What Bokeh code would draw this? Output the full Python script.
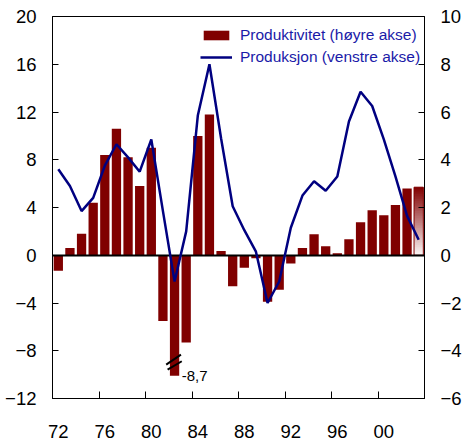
from bokeh.plotting import figure
from bokeh.models import Range1d, LinearAxis, FixedTicker, Legend, LegendItem
from bokeh.core.properties import value
from bokeh.embed import file_html
from bokeh.resources import INLINE

# ---------------- data ----------------
YEARS = list(range(1972, 2004))
# Produktivitet, % (right axis)
PRODUKTIVITET = [-0.65, 0.3, 0.9, 2.2, 4.2, 5.3, 4.1, 2.9, 4.5, -2.75,
                 -8.7, -3.65, 5.0, 5.9, 0.18, -1.3, -0.52, -0.13, -1.95, -1.44,
                 -0.35, 0.3, 0.88, 0.38, 0.08, 0.67, 1.38, 1.88, 1.68, 2.1,
                 2.8, 2.85]
# Produksjon, % (left axis)
PRODUKSJON = [7.2, 5.8, 3.7, 4.8, 7.5, 9.3, 8.2, 7.0, 9.7, 3.7,
              -2.2, 2.0, 11.7, 16.0, 9.8, 4.1, 2.1, 0.3, -4.0, -2.2,
              2.3, 5.0, 6.2, 5.4, 6.6, 11.2, 13.7, 12.5, 9.7, 6.6,
              3.3, 1.3]
XTICK_YEARS = [1972, 1976, 1980, 1984, 1988, 1992, 1996, 2000]
XTICK_LABELS = ["72", "76", "80", "84", "88", "92", "96", "00"]
LEFT_TICKS = [-12, -8, -4, 0, 4, 8, 12, 16, 20]
RIGHT_TICKS = [-6, -4, -2, 0, 2, 4, 6, 8, 10]
FORECAST_YEAR = 2003          # drawn with a fading fill
BREAK_LEVEL = -5.05           # the truncated bar is cut here (right-axis units)
TRUNC_LABEL = "-8,7"
LEGEND_LABELS = ["Produktivitet (høyre akse)", "Produksjon (venstre akse)"]

BAR_COLOR = "#800000"
LINE_COLOR = "#000080"
FONT = "Liberation Sans"

# ---------------- figure ----------------
p = figure(width=464, height=447, output_backend="svg", toolbar_location=None,
           x_range=Range1d(YEARS[0] - 0.5, YEARS[-1] + 0.5),
           y_range=Range1d(LEFT_TICKS[0], LEFT_TICKS[-1]),
           min_border_left=52, min_border_right=37, min_border_top=16,
           min_border_bottom=49)
p.extra_y_ranges = {"right": Range1d(RIGHT_TICKS[0], RIGHT_TICKS[-1])}
p.xgrid.visible = False
p.ygrid.visible = False
p.outline_line_color = "black"
p.outline_line_width = 1
p.background_fill_color = "white"
p.border_fill_color = "white"

# bars (solid, non-forecast)
solid_x = [y for y in YEARS if y != FORECAST_YEAR]
solid_top = [max(v, BREAK_LEVEL) for y, v in zip(YEARS, PRODUKTIVITET) if y != FORECAST_YEAR]
bars = p.vbar(x=solid_x, top=solid_top, bottom=0, width=0.8, y_range_name="right",
              fill_color=BAR_COLOR, line_color=None)

# forecast bar with gradient
fv = PRODUKTIVITET[YEARS.index(FORECAST_YEAR)]
n = 40
def mix(t):
    r = int(round(255 + (0x80 - 255) * t))
    g = int(round(255 + (0x00 - 255) * t))
    b = int(round(255 + (0x00 - 255) * t))
    return "#%02x%02x%02x" % (r, g, b)
bots = [fv * i / n for i in range(n)]
tops = [min(fv, fv * (i + 1.8) / n) for i in range(n)]
cols = [mix(0.03 + 0.97 * (i + 0.5) / n) for i in range(n)]
p.quad(left=[FORECAST_YEAR - 0.4] * n, right=[FORECAST_YEAR + 0.4] * n,
       bottom=bots, top=tops, fill_color=cols, line_color=None, y_range_name="right")
p.vbar(x=[FORECAST_YEAR], top=[fv], bottom=0, width=0.8, fill_color=None,
       line_color=BAR_COLOR, line_width=1, y_range_name="right")

# zero line
p.hspan(y=[0], line_color="black", line_width=2)

# production line
line = p.line(YEARS, PRODUKSJON, line_color=LINE_COLOR, line_width=2.5)

# break mark and label for the truncated bar
ti = min(range(len(YEARS)), key=lambda i: PRODUKTIVITET[i])
ty = YEARS[ti]
p.segment(x0=[ty - 0.72, ty - 0.6], y0=[BREAK_LEVEL + 0.47, BREAK_LEVEL + 0.26],
          x1=[ty + 0.55, ty + 0.62], y1=[BREAK_LEVEL + 0.89, BREAK_LEVEL + 0.61],
          line_color="black", line_width=2, y_range_name="right")
p.text(x=[ty + 0.62], y=[BREAK_LEVEL], text=[TRUNC_LABEL], y_range_name="right",
       text_baseline="middle", text_align="left", text_font=value(FONT),
       text_font_size="15px", text_color="black")

# axes
p.xaxis.ticker = FixedTicker(ticks=XTICK_YEARS,
                             minor_ticks=[y + 3.5 for y in XTICK_YEARS if y + 3.5 < YEARS[-1]])
p.xaxis.major_label_overrides = dict(zip(XTICK_YEARS, XTICK_LABELS))
p.xaxis.major_tick_in = 0
p.xaxis.major_tick_out = 0
p.xaxis.minor_tick_in = 7
p.xaxis.minor_tick_out = 0
p.xaxis.major_label_standoff = 26
p.xaxis.axis_line_color = "black"

p.yaxis.ticker = FixedTicker(ticks=LEFT_TICKS)
p.yaxis.major_tick_in = 6
p.yaxis.major_tick_out = 0
p.yaxis.minor_tick_in = 0
p.yaxis.minor_tick_out = 0
p.yaxis.major_label_standoff = 16

raxis = LinearAxis(y_range_name="right", ticker=FixedTicker(ticks=RIGHT_TICKS),
                   major_tick_in=6, major_tick_out=0, minor_tick_in=0,
                   minor_tick_out=0, major_label_standoff=16)
p.add_layout(raxis, "right")

for ax in [p.xaxis[0], p.yaxis[0], raxis]:
    ax.major_label_text_font = FONT
    ax.major_label_text_font_size = "18.5px"
    ax.major_label_text_color = "black"
    ax.axis_line_color = "black"
    ax.major_tick_line_color = "black"
    ax.minor_tick_line_color = "black"

legend = Legend(items=[LegendItem(label=LEGEND_LABELS[0], renderers=[bars]),
                       LegendItem(label=LEGEND_LABELS[1], renderers=[line])],
                location=(148, 332), orientation="vertical",
                label_text_font=FONT, label_text_font_size="15.5px",
                label_text_color="#1a1aa8", glyph_width=32, glyph_height=12,
                label_standoff=8, spacing=4, padding=4, margin=0,
                border_line_color=None, background_fill_alpha=0)
p.add_layout(legend)

open("out.html", "w").write(file_html(p, INLINE))
